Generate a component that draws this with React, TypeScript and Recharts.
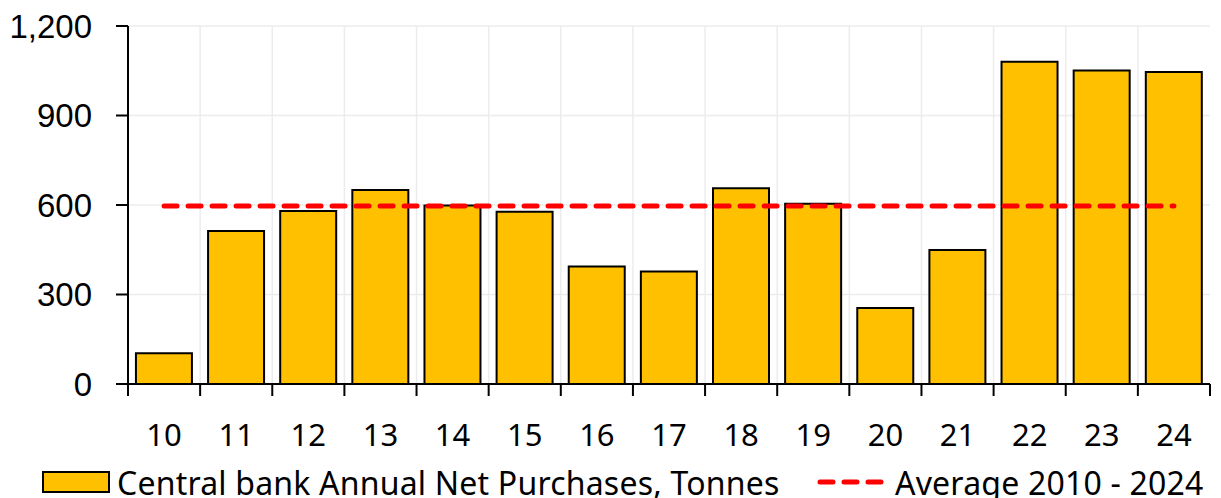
import React from 'react';
import { ComposedChart, Bar, Line, XAxis, YAxis, CartesianGrid, Legend } from 'recharts';

// Central bank annual net gold purchases, tonnes (2010 - 2024)
const years = ['10', '11', '12', '13', '14', '15', '16', '17', '18', '19', '20', '21', '22', '23', '24'];
const purchases = [103, 513, 580, 650, 598, 577, 394, 377, 656, 604, 255, 449, 1080, 1051, 1046];
const average = 597;
const yTicks = [0, 300, 600, 900, 1200];

const data = years.map((year, i) => ({ year, value: purchases[i], avg: average }));

const W = 1221;
const H = 498;
const MARGIN = { top: 26, right: 11, left: 0, bottom: 0 };
const Y_AXIS_W = 128;
const PLOT_W = W - MARGIN.left - MARGIN.right - Y_AXIS_W;
const BAND = PLOT_W / years.length;

const labelFont = '"Noto Sans", sans-serif';

const XTick = (props: any) => {
  const { x, y, payload, index } = props;
  const last = index === years.length - 1;
  return (
    <g>
      <line x1={x - BAND / 2} x2={x - BAND / 2} y1={y} y2={y + 12} stroke="#000" strokeWidth={2} />
      {last && <line x1={x + BAND / 2} x2={x + BAND / 2} y1={y} y2={y + 12} stroke="#000" strokeWidth={2} />}
      <text x={x} y={y + 51} dy="0.35em" textAnchor="middle" fill="#000" fontSize={31} fontFamily={labelFont}>
        {payload.value}
      </text>
    </g>
  );
};

const renderLegend = () => (
  <div style={{ position: 'relative', width: W, height: 40, fontFamily: labelFont, fontSize: 32, letterSpacing: 0.2, color: '#000' }}>
    <div style={{ position: 'absolute', left: 42, top: 13, width: 64, height: 18, background: '#FFC000', border: '2px solid #000' }} />
    <div style={{ position: 'absolute', left: 117, top: 3, lineHeight: '44px', whiteSpace: 'nowrap' }}>
      Central bank Annual Net Purchases, Tonnes
    </div>
    <svg style={{ position: 'absolute', left: 816, top: 20 }} width={70} height={8}>
      <line x1={4} x2={66} y1={4} y2={4} stroke="#FF0000" strokeWidth={5} strokeDasharray="13 11" strokeLinecap="round" />
    </svg>
    <div style={{ position: 'absolute', left: 895, top: 3, lineHeight: '44px', whiteSpace: 'nowrap' }}>
      Average 2010 - 2024
    </div>
  </div>
);

export default function App() {
  return (
    <div style={{ position: 'absolute', left: 0, top: 0, width: W, height: H, background: '#fff', overflow: 'hidden' }}>
      <ComposedChart width={W} height={H} data={data} margin={MARGIN} barCategoryGap="11%">
        <CartesianGrid
          stroke="#ececec"
          strokeWidth={1.5}
          verticalCoordinatesGenerator={({ offset }: any) =>
            years.slice(1).map((_, i) => offset.left + (i + 1) * (offset.width / years.length))
          }
        />
        <XAxis
          dataKey="year"
          axisLine={{ stroke: '#000', strokeWidth: 2 }}
          tickLine={false}
          tickSize={0}
          tickMargin={0}
          height={74}
          interval={0}
          tick={<XTick />}
        />
        <XAxis xAxisId="top" dataKey="year" orientation="top" height={0} tick={false} tickLine={false} axisLine={{ stroke: '#000', strokeWidth: 2 }} />
        <YAxis
          domain={[0, 1200]}
          ticks={yTicks}
          width={Y_AXIS_W}
          axisLine={{ stroke: '#000', strokeWidth: 2 }}
          tickLine={{ stroke: '#000', strokeWidth: 2 }}
          tickSize={12}
          tickMargin={24}
          tickFormatter={(v: number) => v.toLocaleString('en-US')}
          tick={{ fill: '#000', fontSize: 33, fontFamily: '"Liberation Sans", Arial, sans-serif' }}
        />
        <YAxis yAxisId="right" orientation="right" domain={[0, 1200]} width={0} tick={false} tickLine={false} axisLine={{ stroke: '#000', strokeWidth: 2 }} />
        <Legend verticalAlign="bottom" height={40} content={renderLegend} wrapperStyle={{ left: 0, width: W }} />
        <Bar dataKey="value" fill="#FFC000" stroke="#000" strokeWidth={2} isAnimationActive={false} />
        <Line
          dataKey="avg"
          stroke="#FF0000"
          strokeWidth={5}
          strokeDasharray="13 11"
          strokeLinecap="round"
          dot={false}
          activeDot={false}
          isAnimationActive={false}
        />
      </ComposedChart>
    </div>
  );
}
